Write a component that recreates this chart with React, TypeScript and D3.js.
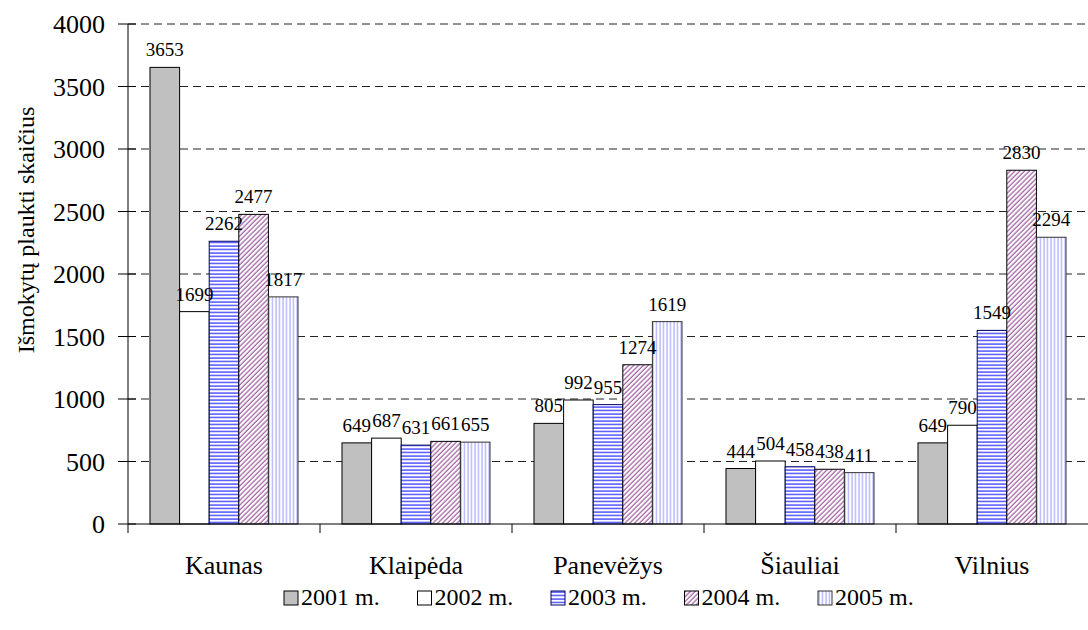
import * as d3 from 'd3';

const categories = ['Kaunas', 'Klaipėda', 'Panevėžys', 'Šiauliai', 'Vilnius'];
const seriesNames = ['2001 m.', '2002 m.', '2003 m.', '2004 m.', '2005 m.'];
const values2001 = [3653, 649, 805, 444, 649];
const values2002 = [1699, 687, 992, 504, 790];
const values2003 = [2262, 631, 955, 458, 1549];
const values2004 = [2477, 661, 1274, 438, 2830];
const values2005 = [1817, 655, 1619, 411, 2294];
const yTicks = [0, 500, 1000, 1500, 2000, 2500, 3000, 3500, 4000];

const allSeries = [values2001, values2002, values2003, values2004, values2005];

const W = 1088;
const H = 630;
const left = 128;
const right = 1088;
const top = 24;
const bottom = 524;
const font = "'Liberation Serif', 'DejaVu Serif', serif";

// fill + stroke per series, patterns defined below
const fills = ['#c0c0c0', '#ffffff', 'url(#p2003)', 'url(#p2004)', 'url(#p2005)'];
const strokes = ['#000', '#000', '#000066', '#000', '#333'];

export default function App() {
  const x0 = d3.scaleBand<string>().domain(categories).range([left, right]).padding(0);
  const x1 = d3
    .scaleBand<number>()
    .domain(d3.range(seriesNames.length))
    .range([22, x0.bandwidth() - 22])
    .padding(0);
  const y = d3.scaleLinear().domain([0, 4000]).range([bottom, top]);

  const legendX = d3.scaleLinear().domain([0, 1]).range([284, 417.5]);

  return (
    <svg
      width={W}
      height={H}
      style={{ position: 'absolute', left: 0, top: 0, background: '#fff', fontFamily: font }}
    >
      <defs>
        <pattern id="p2003" patternUnits="userSpaceOnUse" width={4} height={3.5}>
          <rect width={4} height={3.5} fill="#fff" />
          <line x1={0} x2={4} y1={1} y2={1} stroke="#0000ff" strokeWidth={1} />
        </pattern>
        <pattern
          id="p2004"
          patternUnits="userSpaceOnUse"
          width={3.4}
          height={3.4}
          patternTransform="rotate(45)"
        >
          <rect width={3.4} height={3.4} fill="#fff" />
          <line x1={1} x2={1} y1={0} y2={3.4} stroke="#8a3a8a" strokeWidth={1} />
        </pattern>
        <pattern id="p2005" patternUnits="userSpaceOnUse" width={3.5} height={4}>
          <rect width={3.5} height={4} fill="#fff" />
          <line x1={1} x2={1} y1={0} y2={4} stroke="#9999ff" strokeWidth={1} />
        </pattern>
      </defs>

      {/* grid */}
      {yTicks
        .filter((t) => t > 0)
        .map((t) => (
          <line
            key={'g' + t}
            x1={left}
            x2={right}
            y1={y(t)}
            y2={y(t)}
            stroke="#222"
            strokeWidth={1}
            strokeDasharray="8,5"
          />
        ))}

      {/* bars */}
      {categories.map((c, ci) => (
        <g key={c} transform={`translate(${x0(c)},0)`}>
          {allSeries.map((vals, si) => (
            <rect
              key={si}
              x={x1(si)}
              y={y(vals[ci])}
              width={x1.bandwidth()}
              height={bottom - y(vals[ci])}
              fill={fills[si]}
              stroke={strokes[si]}
              strokeWidth={1}
            />
          ))}
          {allSeries.map((vals, si) => (
            <text
              key={'l' + si}
              x={(x1(si) as number) + x1.bandwidth() / 2}
              y={y(vals[ci]) - 11}
              textAnchor="middle"
              fontSize={19}
              fill="#000"
            >
              {vals[ci]}
            </text>
          ))}
        </g>
      ))}

      {/* y axis */}
      <line x1={left} x2={left} y1={top} y2={bottom} stroke="#000" />
      {yTicks.map((t) => (
        <g key={'t' + t}>
          <line x1={left - 10} x2={left + 8} y1={y(t)} y2={y(t)} stroke="#000" />
          <text x={105} y={y(t)} dy="0.35em" textAnchor="end" fontSize={26}>
            {t}
          </text>
        </g>
      ))}
      <text
        transform={`translate(34,${(top + bottom) / 2 - 44}) rotate(-90)`}
        textAnchor="middle"
        fontSize={24}
      >
        Išmokytų plaukti skaičius
      </text>

      {/* x axis */}
      <line x1={left} x2={right} y1={bottom} y2={bottom} stroke="#000" />
      {categories.map((c) => (
        <line
          key={'xt' + c}
          x1={x0(c)}
          x2={x0(c)}
          y1={bottom}
          y2={bottom + 9}
          stroke="#000"
        />
      ))}
      {categories.map((c) => (
        <text
          key={'xl' + c}
          x={(x0(c) as number) + x0.bandwidth() / 2}
          y={574}
          textAnchor="middle"
          fontSize={26}
        >
          {c}
        </text>
      ))}

      {/* legend */}
      {seriesNames.map((s, i) => (
        <g key={s} transform={`translate(${legendX(i)},591)`}>
          <rect width={14} height={14} fill={fills[i]} stroke={strokes[i]} />
          <text x={17} y={14} fontSize={24}>
            {s}
          </text>
        </g>
      ))}
    </svg>
  );
}
